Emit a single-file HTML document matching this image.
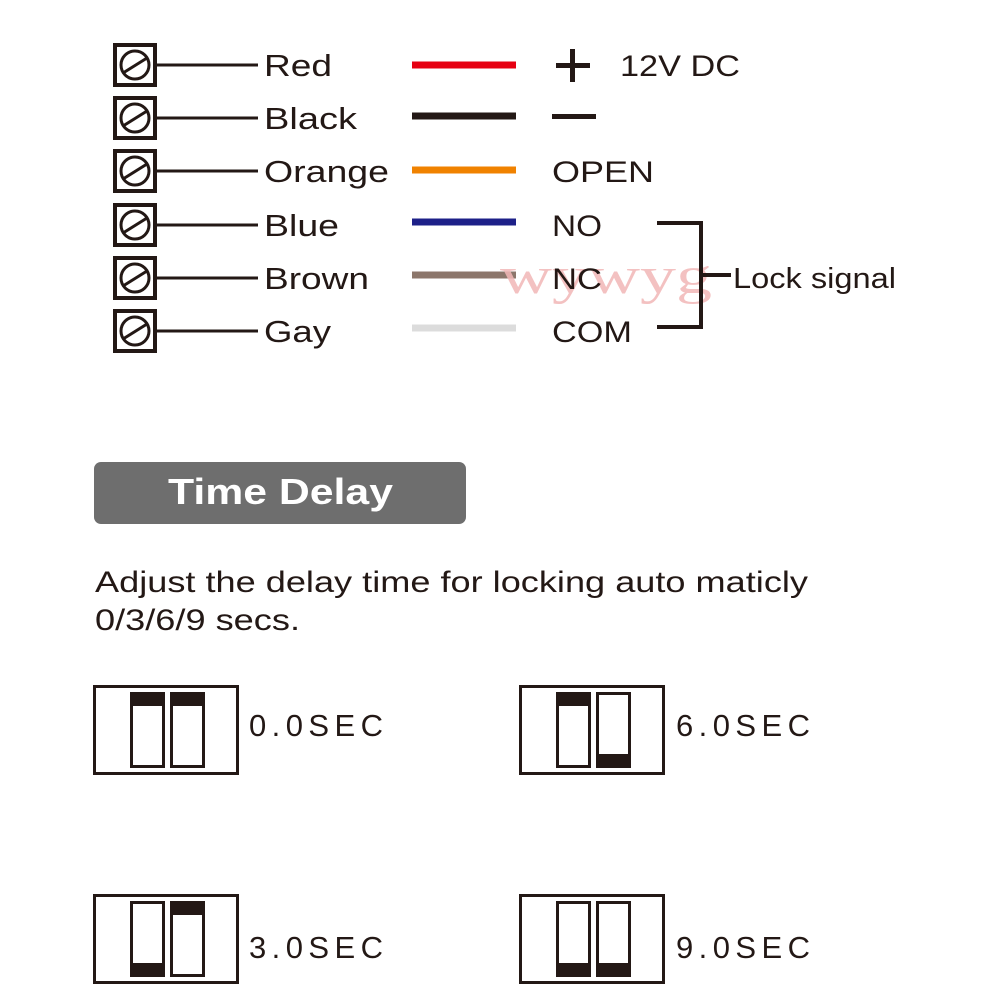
<!DOCTYPE html>
<html><head><meta charset="utf-8"><style>html,body{margin:0;padding:0;background:#fff}svg{display:block}</style></head><body>
<svg width="1000" height="1000" viewBox="0 0 1000 1000" xmlns="http://www.w3.org/2000/svg" font-family="Liberation Sans, sans-serif">
<defs>
<g id="term">
<rect x="115" y="-20" width="40" height="40" fill="none" stroke="#231815" stroke-width="4"/>
<circle cx="135" cy="0" r="14" fill="none" stroke="#231815" stroke-width="3"/>
<line x1="123" y1="8" x2="147" y2="-7" stroke="#231815" stroke-width="3"/>
<line x1="155" y1="0" x2="258" y2="0" stroke="#231815" stroke-width="3"/>
</g>
</defs>
<g>
<use href="#term" y="65"/><use href="#term" y="118"/><use href="#term" y="171"/>
<use href="#term" y="225"/><use href="#term" y="278"/><use href="#term" y="331"/>
</g>
<g font-size="31" fill="#231815" lengthAdjust="spacingAndGlyphs">
<text x="264" y="76" textLength="68" lengthAdjust="spacingAndGlyphs">Red</text>
<text x="264" y="129" textLength="93" lengthAdjust="spacingAndGlyphs">Black</text>
<text x="264" y="182" textLength="125" lengthAdjust="spacingAndGlyphs">Orange</text>
<text x="264" y="236" textLength="75" lengthAdjust="spacingAndGlyphs">Blue</text>
<text x="264" y="289" textLength="105" lengthAdjust="spacingAndGlyphs">Brown</text>
<text x="264" y="342" textLength="67" lengthAdjust="spacingAndGlyphs">Gay</text>
</g>
<g stroke-width="7">
<line x1="412" y1="65" x2="516" y2="65" stroke="#e60012"/>
<line x1="412" y1="116" x2="516" y2="116" stroke="#231815"/>
<line x1="412" y1="170" x2="516" y2="170" stroke="#f08200"/>
<line x1="412" y1="222" x2="516" y2="222" stroke="#1d2088"/>
<line x1="412" y1="275" x2="516" y2="275" stroke="#8c766b"/>
<line x1="412" y1="328" x2="516" y2="328" stroke="#dcdcdc"/>
</g>
<text x="500" y="293" font-family="Liberation Serif, serif" font-size="52" fill="#f2b7b7" opacity="0.85" textLength="212" lengthAdjust="spacingAndGlyphs">wywyg</text>
<g fill="#231815">
<rect x="556" y="63" width="34" height="5"/><rect x="570" y="49" width="5" height="33"/>
<rect x="552" y="114" width="44" height="5"/>
</g>
<g font-size="30" fill="#231815">
<text x="620" y="76" textLength="120" lengthAdjust="spacingAndGlyphs">12V DC</text>
<text x="552" y="182" textLength="102" lengthAdjust="spacingAndGlyphs">OPEN</text>
<text x="552" y="236" textLength="50" lengthAdjust="spacingAndGlyphs">NO</text>
<text x="552" y="289" textLength="50" lengthAdjust="spacingAndGlyphs">NC</text>
<text x="552" y="342" textLength="80" lengthAdjust="spacingAndGlyphs">COM</text>
</g>
<path d="M657 223 H701 V327 H657 M701 275 H731" fill="none" stroke="#231815" stroke-width="4"/>
<text x="733" y="288" font-size="29" fill="#231815" textLength="163" lengthAdjust="spacingAndGlyphs">Lock signal</text>
<rect x="94" y="462" width="372" height="62" rx="7" fill="#6e6e6e"/>
<text x="168" y="504" font-size="36" font-weight="bold" fill="#fff" textLength="225" lengthAdjust="spacingAndGlyphs">Time Delay</text>
<g font-size="30" fill="#231815">
<text x="95" y="592" textLength="713" lengthAdjust="spacingAndGlyphs">Adjust the delay time for locking auto maticly</text>
<text x="95" y="630" textLength="205" lengthAdjust="spacingAndGlyphs">0/3/6/9 secs.</text>
</g>
<g fill="none" stroke="#231815" stroke-width="3">
<rect x="94.5" y="686.5" width="143" height="87"/>
<rect x="520.5" y="686.5" width="143" height="87"/>
<rect x="94.5" y="895.5" width="143" height="87"/>
<rect x="520.5" y="895.5" width="143" height="87"/>
<rect x="131.5" y="693.5" width="32" height="73"/><rect x="171.5" y="693.5" width="32" height="73"/>
<rect x="557.5" y="693.5" width="32" height="73"/><rect x="597.5" y="693.5" width="32" height="73"/>
<rect x="131.5" y="902.5" width="32" height="73"/><rect x="171.5" y="902.5" width="32" height="73"/>
<rect x="557.5" y="902.5" width="32" height="73"/><rect x="597.5" y="902.5" width="32" height="73"/>
</g>
<g fill="#231815">
<rect x="130" y="692" width="35" height="14"/><rect x="170" y="692" width="35" height="14"/>
<rect x="556" y="692" width="35" height="14"/><rect x="596" y="754" width="35" height="14"/>
<rect x="130" y="963" width="35" height="14"/><rect x="170" y="901" width="35" height="14"/>
<rect x="556" y="963" width="35" height="14"/><rect x="596" y="963" width="35" height="14"/>
</g>
<g font-size="31" fill="#231815">
<text x="249" y="736" textLength="134" lengthAdjust="spacing">0.0SEC</text>
<text x="676" y="736" textLength="134" lengthAdjust="spacing">6.0SEC</text>
<text x="249" y="958" textLength="134" lengthAdjust="spacing">3.0SEC</text>
<text x="676" y="958" textLength="134" lengthAdjust="spacing">9.0SEC</text>
</g>
</svg>
</body></html>
